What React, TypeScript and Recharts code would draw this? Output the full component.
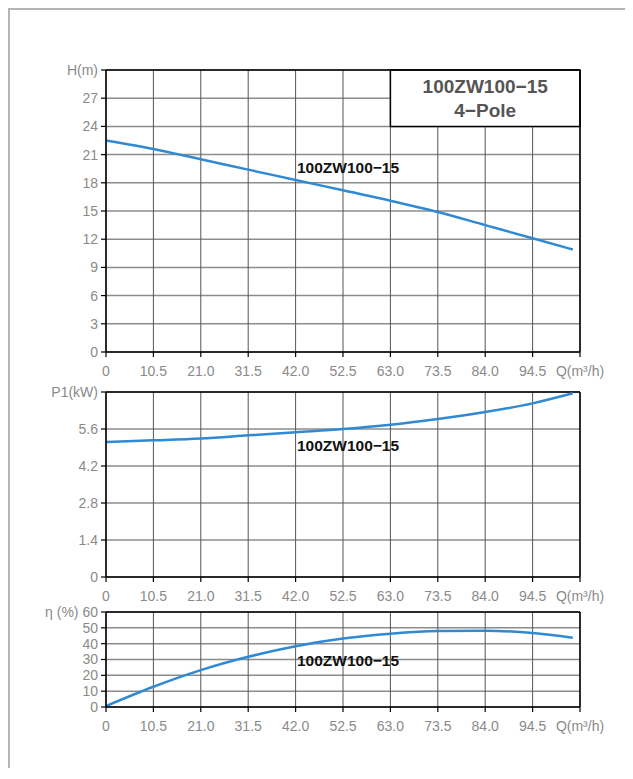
import React from 'react'
import { LineChart, Line, XAxis, YAxis, CartesianGrid, ReferenceLine, ReferenceArea, ReferenceDot } from 'recharts'

// flow points (m3/h)
const flow = [0, 10.5, 21, 31.5, 42, 52.5, 63, 73.5, 84, 94.5, 103.4]
const head = [22.5, 21.6, 20.5, 19.4, 18.3, 17.2, 16.1, 14.9, 13.5, 12.1, 10.9]
const power = [5.11, 5.17, 5.24, 5.36, 5.48, 5.6, 5.76, 5.98, 6.24, 6.57, 6.95]
const eff = [0.6, 12.8, 23.3, 31.7, 38.4, 43.2, 46.3, 48, 48.2, 46.7, 43.8]

const qTicks = [0, 10.5, 21, 31.5, 42, 52.5, 63, 73.5, 84, 94.5, 105]
const hTicks = [0, 3, 6, 9, 12, 15, 18, 21, 24, 27, 30]
const pTicks = [0, 1.4, 2.8, 4.2, 5.6, 7]
const eTicks = [0, 10, 20, 30, 40, 50, 60]

const model = '100ZW100−15'
const poles = '4−Pole'

const data = flow.map((q, i) => ({ q, h: head[i], p: power[i], e: eff[i] }))

const BLUE = '#2f8ad3'
const FONT = 'Liberation Sans, Arial, sans-serif'
const tickStyle = { fill: '#8a8a8a', fontSize: 14, fontFamily: FONT }
const axisLine = { stroke: '#000', strokeWidth: 1.5 }
const tickLine = { stroke: '#000', strokeWidth: 1.2 }

const fmtQ = (v: number) => (v === 105 ? 'Q(m³/h)' : v === 0 ? '0' : v.toFixed(1))

function SeriesLabel(props: any) {
  const vb = props.viewBox || {}
  const x = vb.x + (vb.width || 0) / 2
  const y = vb.y + (vb.height || 0) / 2
  return (
    <text x={x} y={y} dominantBaseline="central" fontSize={15.5} fontWeight="bold" fill="#111" fontFamily={FONT}>
      {model}
    </text>
  )
}

function TitleLabel(props: any) {
  const { x, y, width } = props.viewBox
  const cx = x + width / 2
  return (
    <g fontFamily={FONT} fontWeight="bold" fontSize={19} fill="#555" textAnchor="middle">
      <text x={cx} y={y + 16} dominantBaseline="central">{model}</text>
      <text x={cx} y={y + 40} dominantBaseline="central">{poles}</text>
    </g>
  )
}

interface PanelProps {
  top: number
  plotH: number
  dataKey: string
  yTicks: number[]
  yMax: number
  yFmt: (v: number) => string
  labelY: number
  children?: React.ReactNode
}

function Panel({ top, plotH, dataKey, yTicks, yMax, yFmt, labelY, children }: PanelProps) {
  return (
    <div style={{ position: 'absolute', left: 0, top }}>
      <LineChart width={617} height={10 + plotH + 30} data={data}
        margin={{ top: 10, right: 45, bottom: 0, left: 0 }} style={{ overflow: 'visible' }}>
        <CartesianGrid vertical={false} stroke="#8c8c8c" strokeWidth={1.5} />
        <CartesianGrid horizontal={false} stroke="#555" strokeWidth={1} />
        <XAxis dataKey="q" type="number" domain={[0, 105]} ticks={qTicks} interval={0}
          tickFormatter={fmtQ} tick={tickStyle} tickSize={5} tickMargin={9} height={30}
          axisLine={axisLine} tickLine={tickLine} />
        <YAxis type="number" domain={[0, yMax]} ticks={yTicks} interval={0} width={98}
          tickFormatter={yFmt} tick={tickStyle} tickSize={5} tickMargin={3}
          axisLine={axisLine} tickLine={tickLine} />
        <ReferenceLine y={yMax} stroke="#000" strokeWidth={1.5} />
        <ReferenceLine x={105} stroke="#000" strokeWidth={1.5} />
        {children}
        <ReferenceDot x={42.3} y={labelY} r={0.01} fill="none" stroke="none" label={<SeriesLabel />} />
        <Line type="monotone" dataKey={dataKey} stroke={BLUE} strokeWidth={2.5} dot={false} isAnimationActive={false} />
      </LineChart>
    </div>
  )
}

export default function App() {
  return (
    <div style={{ position: 'relative', width: 625, height: 760 }}>
      <style>{'html,body{overflow:hidden}'}</style>
      <div style={{ position: 'absolute', left: 0, top: 0, width: 625, height: 771, borderTop: '2px solid #b4b4b4', borderLeft: '2px solid #b4b4b4', boxSizing: 'border-box' }} />
      <Panel top={52} plotH={282} dataKey="h" yTicks={hTicks} yMax={30}
        yFmt={(v) => (v === 30 ? 'H(m)' : String(v))} labelY={19.6}>
        <ReferenceArea x1={63} x2={105} y1={24} y2={30} fill="#fff" fillOpacity={1} stroke="#000" strokeWidth={1.5}
          label={<TitleLabel />} />
      </Panel>
      <Panel top={374} plotH={185} dataKey="p" yTicks={pTicks} yMax={7}
        yFmt={(v) => (v === 7 ? 'P1(kW)' : v === 0 ? '0' : v.toFixed(1))} labelY={4.96} />
      <Panel top={594} plotH={95} dataKey="e" yTicks={eTicks} yMax={60}
        yFmt={(v) => (v === 60 ? 'η (%) 60' : String(v))} labelY={29.6} />
    </div>
  )
}
